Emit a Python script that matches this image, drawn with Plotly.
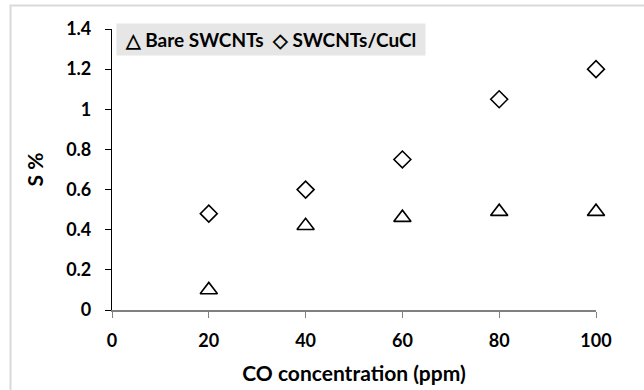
import plotly.graph_objects as go

# CO concentration (ppm) and sensor response S (%)
co_ppm = [20, 40, 60, 80, 100]
s_bare = [0.10, 0.42, 0.46, 0.49, 0.49]
s_cucl = [0.48, 0.60, 0.75, 1.05, 1.20]

series_names = ["Bare SWCNTs", "SWCNTs/CuCl"]
series_glyphs = ["\u25B3", "\u25C7"]
x_ticks = [0, 20, 40, 60, 80, 100]
y_ticks = [0, 0.2, 0.4, 0.6, 0.8, 1.0, 1.2, 1.4]
y_tick_text = ["0", "0.2", "0.4", "0.6", "0.8", "1", "1.2", "1.4"]

W, H = 644, 390
L, R, T, B = 112, 48, 29, 80
FONT = "Lato"

fig = go.Figure()
fig.add_trace(go.Scatter(
    x=co_ppm, y=s_bare, mode="markers", name=series_names[0],
    cliponaxis=False,
    marker=dict(symbol="triangle-up-open", size=15, color="black",
                line=dict(width=1.6, color="black")),
))
fig.add_trace(go.Scatter(
    x=co_ppm, y=s_cucl, mode="markers", name=series_names[1],
    cliponaxis=False,
    marker=dict(symbol="diamond-open", size=13, color="black",
                line=dict(width=1.6, color="black")),
))

pw = W - L - R
ph = H - T - B

def px_x(p):
    return (p - L) / pw

def px_y(p):
    return (H - B - p) / ph

# legend strip: glyph + name for each series on a shaded background
legend_text = " " + "  ".join(f"{g} {n}" for g, n in zip(series_glyphs, series_names)) + " "

fig.update_layout(
    width=W, height=H,
    margin=dict(l=L, r=R, t=T, b=B, autoexpand=False),
    paper_bgcolor="white", plot_bgcolor="white",
    font=dict(family=FONT, color="black", size=18),
    showlegend=False,
    xaxis=dict(
        range=[0, 100], tickvals=x_ticks, ticks="outside", ticklen=6,
        tickcolor="#808080", linecolor="#808080", linewidth=1.5, showline=True,
        showgrid=False, zeroline=False, ticklabelstandoff=8, automargin=False,
        tickfont=dict(family=FONT, size=18, weight="bold"),
        title=dict(text="CO concentration (ppm)", standoff=16,
                   font=dict(family=FONT, size=21, weight="bold")),
    ),
    yaxis=dict(
        range=[0, 1.4], tickvals=y_ticks, ticktext=y_tick_text, ticks="outside",
        ticklen=6, tickcolor="black", linecolor="black", linewidth=1.2,
        showline=True, showgrid=False, zeroline=False, ticklabelstandoff=10,
        automargin=False,
        tickfont=dict(family=FONT, size=18, weight="bold"),
        title=dict(text="S %", standoff=16,
                   font=dict(family=FONT, size=21, weight="bold")),
    ),
    annotations=[dict(
        text=legend_text, xref="paper", yref="paper",
        x=px_x(116), y=px_y(23), xanchor="left", yanchor="top",
        showarrow=False, bgcolor="#e6e6e6", borderpad=4,
        font=dict(family=FONT, size=19, weight="bold", color="black"),
    )],
    shapes=[dict(
        type="rect", xref="paper", yref="paper",
        x0=px_x(10.5), x1=px_x(W + 5), y0=px_y(H + 5), y1=px_y(5.5),
        line=dict(color="#d9d9d9", width=2), fillcolor="rgba(0,0,0,0)",
        layer="below",
    )],
)

fig.write_html("out.html")
